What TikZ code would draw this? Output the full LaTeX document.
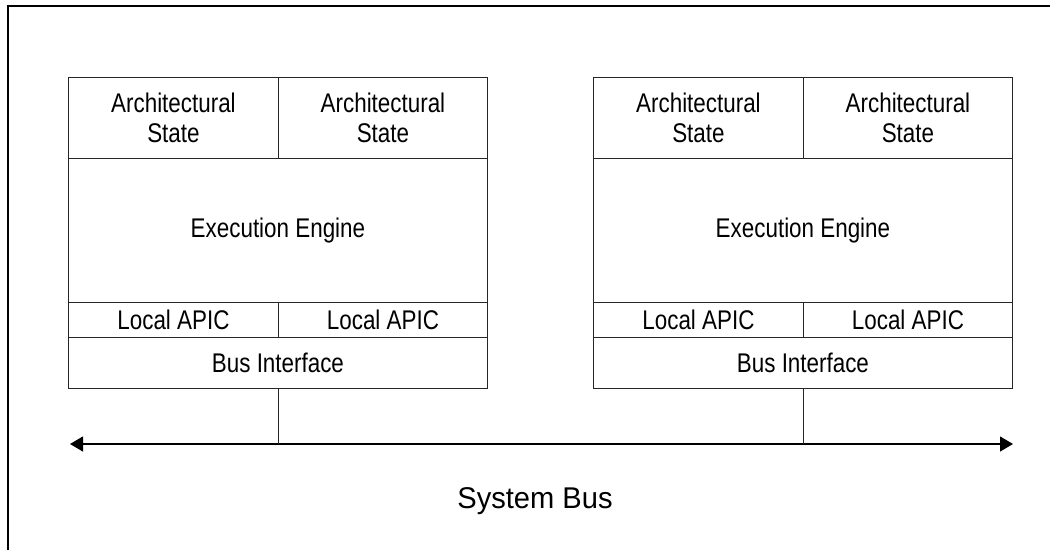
\documentclass[tikz,border=0pt]{standalone}
\usepackage{fontspec}
\setmainfont{Liberation Sans}
\newfontfamily\narrowsans[FakeStretch=0.83]{Liberation Sans}
\newfontfamily\bussans[FakeStretch=0.97]{Liberation Sans}
\usetikzlibrary{arrows.meta}
\tikzset{
  cell/.style={draw=black!85, line width=0.9pt, anchor=north west, inner sep=0pt,
    align=center, font=\narrowsans\fontsize{27}{30}\selectfont},
  link/.style={draw=black!85, line width=0.9pt},
  busline/.style={draw=black, line width=1.2pt,
    {Triangle[length=13pt,width=15pt]}-{Triangle[length=13pt,width=15pt]}},
  frame/.style={line width=2.8pt}
}
\begin{document}
\begin{tikzpicture}[x=1pt,y=-1pt]
\useasboundingbox (0,0) rectangle (1050,550);
% outer frame (top and left edges)
\draw[frame] (8,550) -- (8,6) -- (1050,6);

% processor package, left
\node[cell, minimum width=210pt, minimum height=81pt] (asL1) at (68,77) {Architectural\\State};
\node[cell, minimum width=209pt, minimum height=81pt] (asL2) at (278,77) {Architectural\\State};
\node[cell, minimum width=419pt, minimum height=144pt] (eeL) at (68,158) {Execution Engine};
\node[cell, minimum width=210pt, minimum height=35pt] (apL1) at (68,302) {Local APIC};
\node[cell, minimum width=209pt, minimum height=35pt] (apL2) at (278,302) {Local APIC};
\node[cell, minimum width=419pt, minimum height=51pt] (biL) at (68,337) {Bus Interface};

% processor package, right
\node[cell, minimum width=210pt, minimum height=81pt] (asR1) at (593,77) {Architectural\\State};
\node[cell, minimum width=209pt, minimum height=81pt] (asR2) at (803,77) {Architectural\\State};
\node[cell, minimum width=419pt, minimum height=144pt] (eeR) at (593,158) {Execution Engine};
\node[cell, minimum width=210pt, minimum height=35pt] (apR1) at (593,302) {Local APIC};
\node[cell, minimum width=209pt, minimum height=35pt] (apR2) at (803,302) {Local APIC};
\node[cell, minimum width=419pt, minimum height=51pt] (biR) at (593,337) {Bus Interface};

% system bus
\coordinate (busL) at (70,444);
\coordinate (busR) at (1013,444);
\draw[busline] (busL) -- (busR);
\draw[link] (biL.south) -- (biL.south |- busL);
\draw[link] (biR.south) -- (biR.south |- busR);
\node[font=\bussans\fontsize{30}{34}\selectfont, inner sep=0pt, anchor=base] (busLabel) at (535,508) {System Bus};
\end{tikzpicture}
\end{document}
